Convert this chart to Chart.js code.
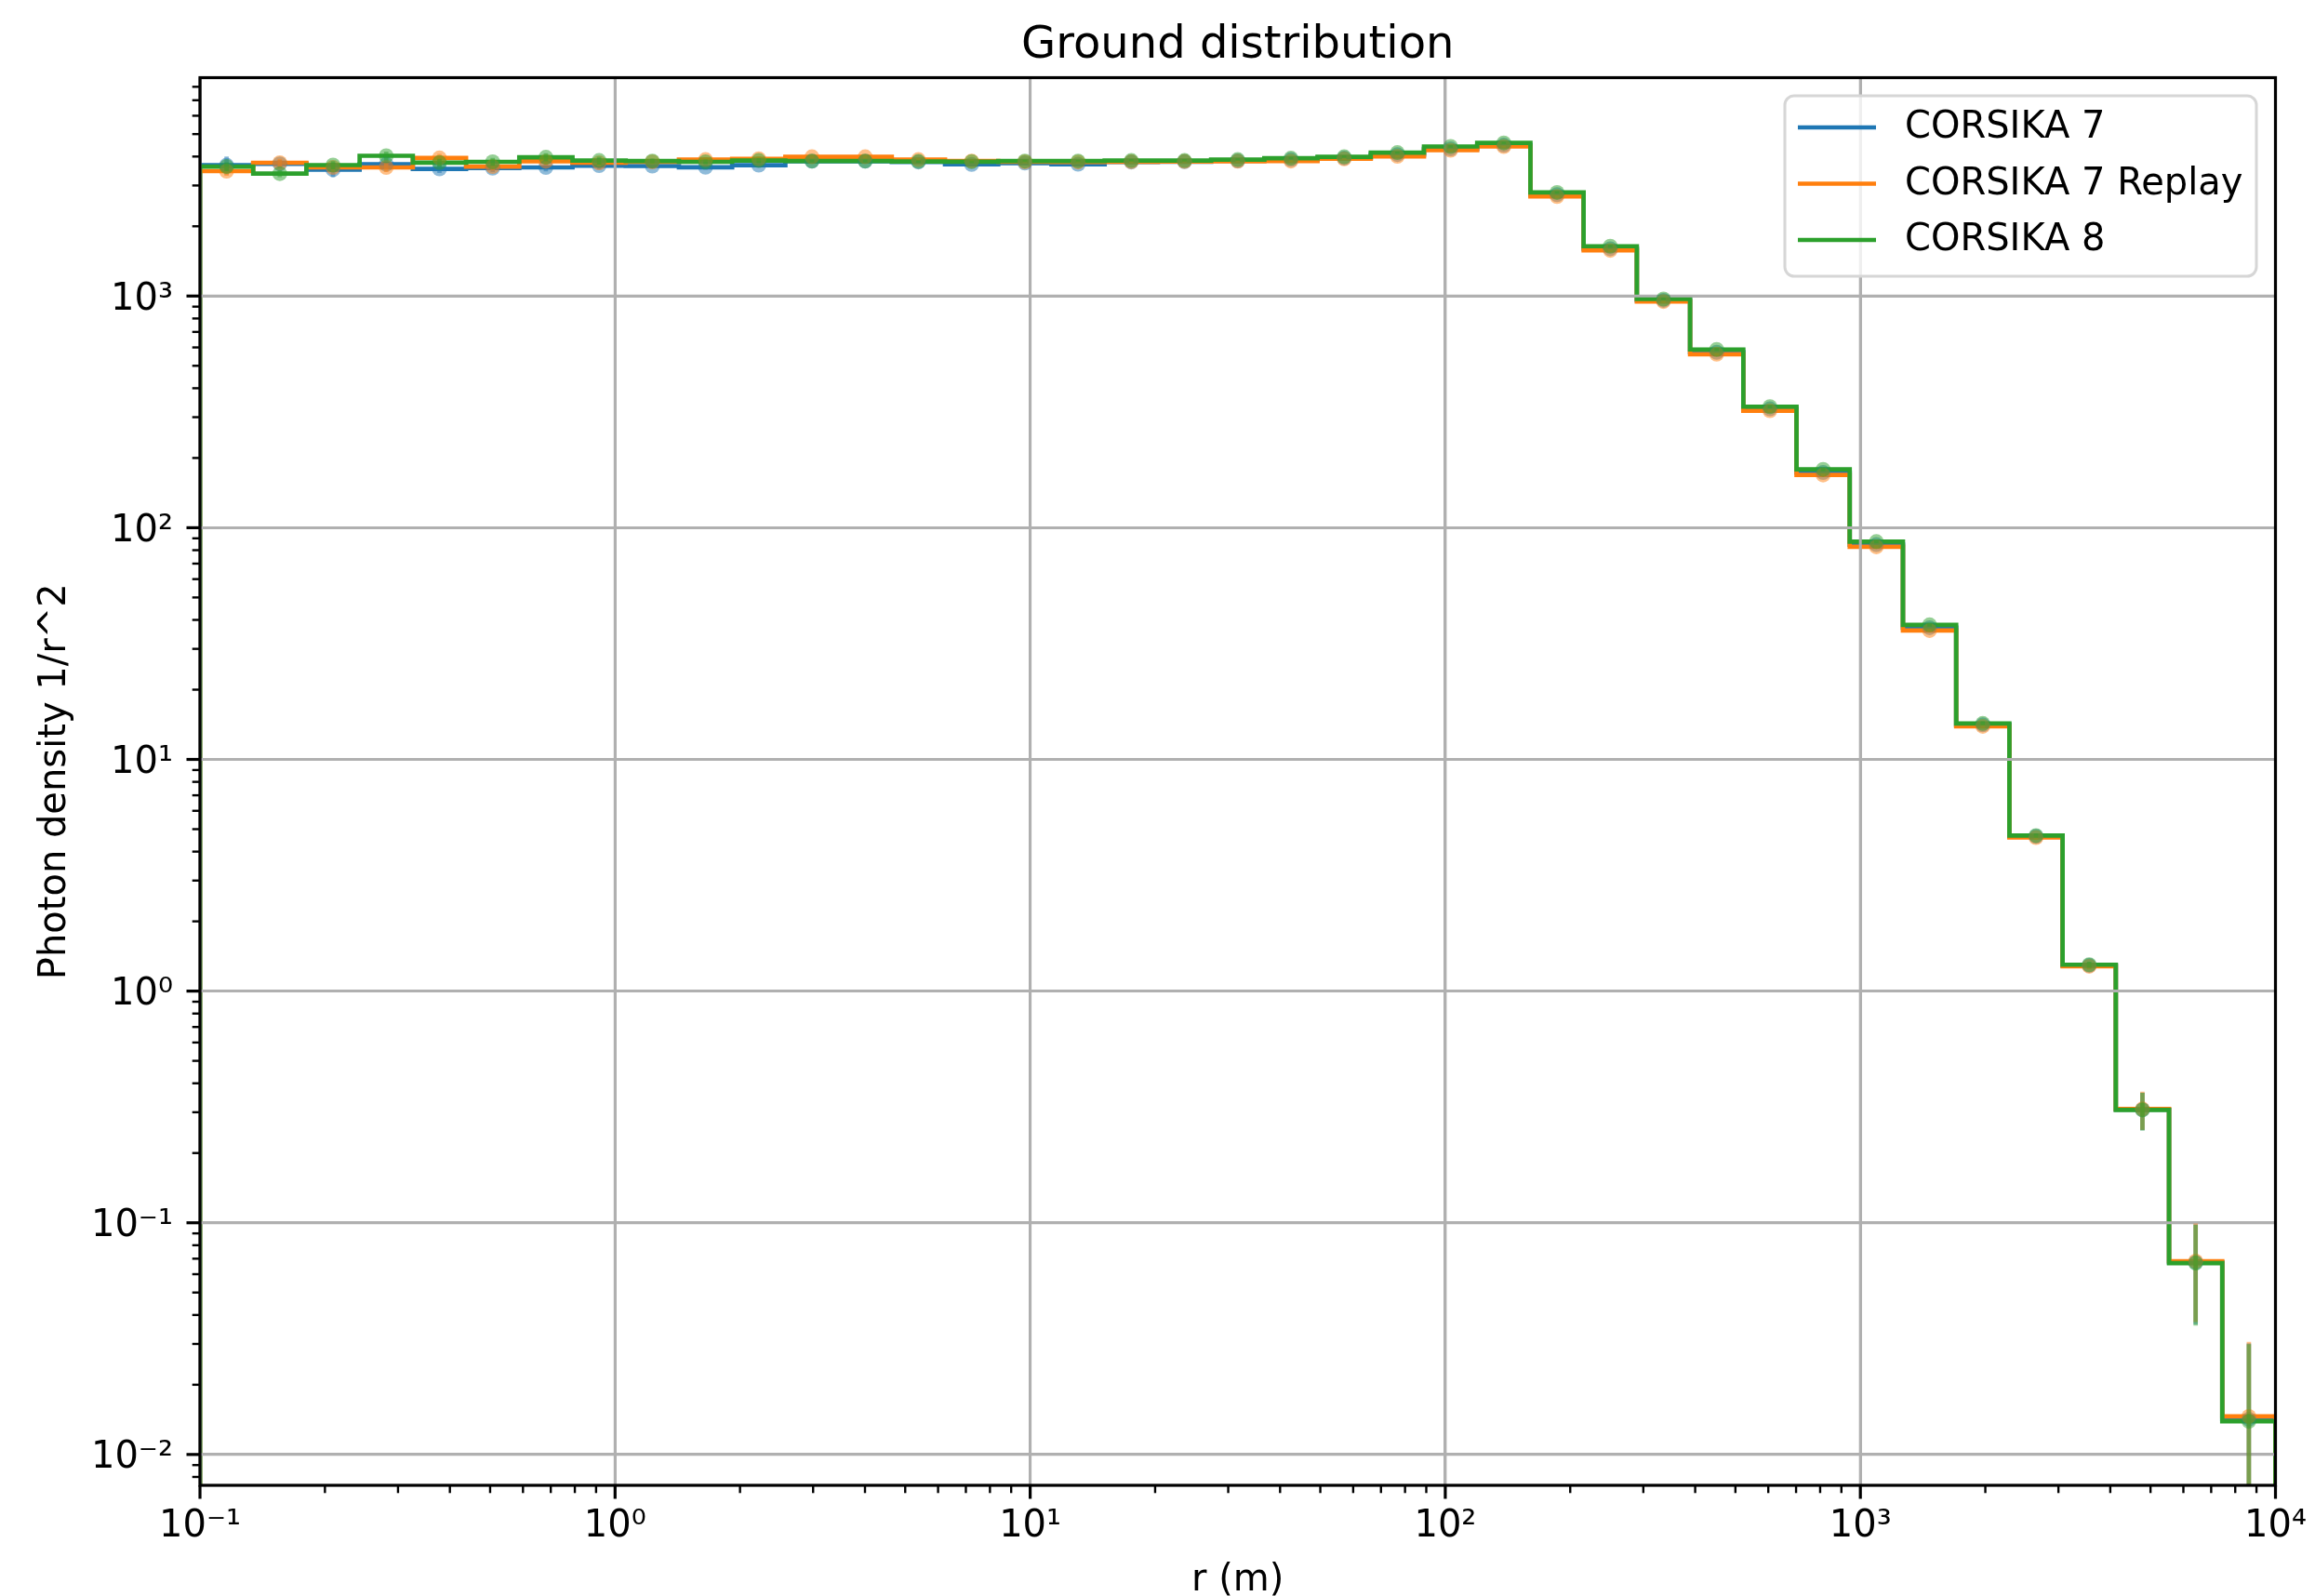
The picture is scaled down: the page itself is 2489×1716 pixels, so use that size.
<!DOCTYPE html>
<html>
<head>
<meta charset="utf-8">
<title>Ground distribution</title>
<script src="https://cdn.jsdelivr.net/npm/chart.js@4.4.1/dist/chart.umd.min.js"></script>
<style>
  html, body { margin: 0; padding: 0; background: #fff; }
  #wrap { width: 2489px; height: 1716px; }
</style>
</head>
<body>
<div id="wrap"><canvas id="chartGround" width="2489" height="1716"></canvas></div>
<script>
// radial bin edges in m (39 log bins from 0.1 m to 10 km)
const binEdges = [
  0.1, 0.134343, 0.180472, 0.242446, 0.325702, 0.437548, 0.587802, 0.789652,
  1.06082, 1.42510, 1.91448, 2.57191, 3.45511, 4.64159, 6.23550, 8.37678,
  11.2534, 15.1177, 20.3092, 27.2833, 36.6524, 49.2388, 66.1474, 88.8624,
  119.378, 160.372, 215.443, 289.427, 388.816, 522.335, 701.704, 942.668,
  1266.38, 1701.24, 2285.44, 3070.28, 4124.66, 5541.17, 7443.80, 10000
];

const seriesNames = ['CORSIKA 7', 'CORSIKA 7 Replay', 'CORSIKA 8'];

// photon density per bin
const c7 = [
  3670, 3720, 3510, 3705, 3540, 3565, 3590, 3655,
  3640, 3595, 3670, 3820, 3820, 3790, 3700, 3750,
  3705, 3790, 3800, 3830, 3880, 3940, 4080, 4320,
  4480, 2740, 1600, 958, 572, 326, 173, 84.5,
  37.0, 14.1, 4.65, 1.29, 0.308, 0.0675, 0.0142
];
const c7Replay = [
  3460, 3760, 3590, 3590, 3945, 3620, 3815, 3760,
  3795, 3880, 3910, 3990, 3990, 3880, 3825, 3795,
  3790, 3800, 3810, 3820, 3825, 3910, 4010, 4260,
  4420, 2690, 1575, 947, 561, 320, 169, 82.7,
  36.0, 13.9, 4.60, 1.28, 0.310, 0.0683, 0.0146
];
const c8 = [
  3620, 3375, 3675, 4030, 3765, 3795, 3970, 3845,
  3825, 3795, 3845, 3825, 3825, 3810, 3800, 3825,
  3825, 3845, 3845, 3880, 3935, 3990, 4160, 4420,
  4580, 2800, 1640, 971, 588, 333, 178.6, 87.1,
  38.1, 14.3, 4.69, 1.30, 0.307, 0.067, 0.0139
];

// statistical uncertainty per bin
const errC7 = [
  330, 150, 250, 150, 140, 140, 140, 140,
  90, 90, 90, 60, 60, 50, 50, 50,
  45, 45, 45, 45, 45, 45, 45, 50,
  50, 35, 22, 14, 8, 5, 3, 1.5,
  0.7, 0.3, 0.1, 0.04, 0.057, 0.031, 0.016
];
const errReplay = [
  160, 150, 150, 160, 160, 140, 150, 140,
  90, 90, 90, 60, 60, 50, 50, 50,
  45, 45, 45, 45, 45, 45, 45, 50,
  50, 35, 22, 14, 8, 5, 3, 1.5,
  0.7, 0.3, 0.1, 0.04, 0.058, 0.031, 0.016
];
const errC8 = [
  160, 120, 150, 170, 150, 150, 160, 150,
  90, 90, 90, 60, 60, 50, 50, 50,
  45, 45, 45, 45, 45, 45, 45, 50,
  50, 35, 22, 14, 8, 5, 3, 1.5,
  0.7, 0.3, 0.1, 0.04, 0.057, 0.031, 0.016
];

const xTickValues = [0.1, 1, 10, 100, 1000, 10000];
const xTickLabels = ['10⁻¹', '10⁰', '10¹', '10²', '10³', '10⁴'];
const yTickValues = [0.01, 0.1, 1, 10, 100, 1000];
const yTickLabels = ['10⁻²', '10⁻¹', '10⁰', '10¹', '10²', '10³'];

const X_MIN = 0.1, X_MAX = 10000;
const Y_MIN = 0.00736, Y_MAX = 8760;

const COLORS = ['#1f77b4', '#ff7f0e', '#2ca02c'];
const DOTS = ['rgba(31,119,180,0.5)', 'rgba(255,127,14,0.5)', 'rgba(44,160,44,0.5)'];
const GRID = '#b0b0b0';
const FONT = '"DejaVu Sans", sans-serif';

function isMajor(v) {
  const l = Math.log10(v);
  return Math.abs(l - Math.round(l)) < 1e-6;
}

function logTicks(min, max) {
  const out = [];
  for (let e = Math.floor(Math.log10(min)); e <= Math.ceil(Math.log10(max)); e++) {
    for (let m = 1; m < 10; m++) {
      const v = m * Math.pow(10, e);
      if (v >= min * (1 - 1e-9) && v <= max * (1 + 1e-9)) out.push(v);
    }
  }
  return out;
}

function labelFor(values, labels, v) {
  const i = values.findIndex(t => Math.abs(Math.log10(t) - Math.log10(v)) < 1e-6);
  return i < 0 ? '' : labels[i];
}

// histogram outline: left edge of each bin, closed down to the axis floor
function stepPoints(vals) {
  const last = binEdges.length - 1;
  const pts = [{ x: binEdges[0], y: Y_MIN }];
  vals.forEach((v, i) => pts.push({ x: binEdges[i], y: v }));
  pts.push({ x: binEdges[last], y: vals[vals.length - 1] });
  pts.push({ x: binEdges[last], y: Y_MIN });
  return pts;
}

function centerPoints(vals) {
  return vals.map((v, i) => ({ x: Math.sqrt(binEdges[i] * binEdges[i + 1]), y: v }));
}

const allValues = [c7, c7Replay, c8];
const allErrors = [errC7, errReplay, errC8];

const datasets = [];
allValues.forEach((vals, s) => {
  datasets.push({
    label: seriesNames[s],
    data: stepPoints(vals),
    borderColor: COLORS[s],
    borderWidth: 4.7,
    borderJoinStyle: 'miter',
    borderCapStyle: 'butt',
    stepped: 'before',
    pointRadius: 0,
    fill: false,
    order: 5 - s,
    isStep: true
  });
  datasets.push({
    label: seriesNames[s] + ' points',
    data: centerPoints(vals),
    errors: allErrors[s],
    errColor: DOTS[s],
    showLine: false,
    pointRadius: 8,
    pointHoverRadius: 8,
    pointBackgroundColor: DOTS[s],
    pointBorderWidth: 0,
    order: 2 - s,
    gridOver: s === 0
  });
});

function drawMajorGrid(chart) {
  const { ctx, chartArea: a, scales: { x, y } } = chart;
  ctx.save();
  ctx.strokeStyle = GRID;
  ctx.lineWidth = 3;
  xTickValues.forEach(v => {
    const px = x.getPixelForValue(v);
    if (px < a.left - 1 || px > a.right + 1) return;
    ctx.beginPath(); ctx.moveTo(px, a.top); ctx.lineTo(px, a.bottom); ctx.stroke();
  });
  yTickValues.forEach(v => {
    const py = y.getPixelForValue(v);
    if (py < a.top - 1 || py > a.bottom + 1) return;
    ctx.beginPath(); ctx.moveTo(a.left, py); ctx.lineTo(a.right, py); ctx.stroke();
  });
  ctx.restore();
}

function drawErrorBars(chart, ds) {
  const { ctx, chartArea: a, scales: { x, y } } = chart;
  ctx.save();
  ctx.beginPath();
  ctx.rect(a.left, a.top, a.right - a.left, a.bottom - a.top);
  ctx.clip();
  ctx.strokeStyle = ds.errColor;
  ctx.lineWidth = 4.7;
  ds.data.forEach((p, i) => {
    const e = ds.errors[i];
    const px = x.getPixelForValue(p.x);
    const top = y.getPixelForValue(p.y + e);
    const lo = p.y - e;
    const bottom = lo > 0 ? y.getPixelForValue(lo) : a.bottom + 10;
    ctx.beginPath(); ctx.moveTo(px, top); ctx.lineTo(px, bottom); ctx.stroke();
  });
  ctx.restore();
}

function drawFrame(chart) {
  const { ctx, chartArea: a, scales: { x, y } } = chart;
  ctx.save();
  ctx.strokeStyle = '#000';
  logTicks(X_MIN, X_MAX).forEach(v => {
    const px = x.getPixelForValue(v);
    const major = isMajor(v);
    ctx.lineWidth = major ? 3.2 : 2.4;
    ctx.beginPath(); ctx.moveTo(px, a.bottom); ctx.lineTo(px, a.bottom + (major ? 14.5 : 8.3)); ctx.stroke();
  });
  logTicks(Y_MIN, Y_MAX).forEach(v => {
    const py = y.getPixelForValue(v);
    const major = isMajor(v);
    ctx.lineWidth = major ? 3.2 : 2.4;
    ctx.beginPath(); ctx.moveTo(a.left, py); ctx.lineTo(a.left - (major ? 14.5 : 8.3), py); ctx.stroke();
  });
  ctx.lineWidth = 3.2;
  ctx.lineJoin = 'miter';
  ctx.strokeRect(a.left, a.top, a.right - a.left, a.bottom - a.top);
  ctx.restore();
}

function drawTexts(chart) {
  const { ctx, chartArea: a } = chart;
  const cx = (a.left + a.right) / 2;
  ctx.save();
  ctx.fillStyle = '#000';
  ctx.textAlign = 'center';
  ctx.textBaseline = 'alphabetic';
  ctx.font = '48px ' + FONT;
  ctx.fillText('Ground distribution', cx, 62);
  ctx.font = '40px ' + FONT;
  ctx.fillText('r (m)', cx, 1710);
  ctx.translate(60, (a.top + a.bottom) / 2);
  ctx.rotate(-Math.PI / 2);
  ctx.textBaseline = 'middle';
  ctx.fillText('Photon density 1/r^2', 0, 0);
  ctx.restore();
}

function drawLegend(chart) {
  const { ctx } = chart;
  const bx = 1919, by = 103, bw = 507, bh = 194, r = 10;
  ctx.save();
  ctx.beginPath();
  ctx.roundRect(bx, by, bw, bh, r);
  ctx.fillStyle = 'rgba(255,255,255,0.8)';
  ctx.fill();
  ctx.strokeStyle = '#d6d6d6';
  ctx.lineWidth = 3;
  ctx.stroke();
  const steps = chart.data.datasets.filter(d => d.isStep);
  ctx.font = '40px ' + FONT;
  ctx.textAlign = 'left';
  ctx.textBaseline = 'middle';
  steps.forEach((d, i) => {
    const ly = 137 + i * 60.5;
    ctx.strokeStyle = d.borderColor;
    ctx.lineWidth = 4.7;
    ctx.beginPath(); ctx.moveTo(1933, ly); ctx.lineTo(2017, ly); ctx.stroke();
    ctx.fillStyle = '#000';
    ctx.fillText(d.label, 2048, ly + 1);
  });
  ctx.restore();
}

const histDecor = {
  id: 'histDecor',
  beforeDatasetDraw(chart, args) {
    const ds = chart.data.datasets[args.index];
    if (ds.gridOver) drawMajorGrid(chart);
    if (ds.errors) drawErrorBars(chart, ds);
  },
  afterDatasetsDraw(chart) {
    drawFrame(chart);
  },
  afterDraw(chart) {
    drawTexts(chart);
    drawLegend(chart);
  }
};

const ctx = document.getElementById('chartGround');

new Chart(ctx, {
  type: 'line',
  data: { datasets: datasets },
  plugins: [histDecor],
  options: {
    responsive: false,
    animation: false,
    devicePixelRatio: 1,
    layout: { padding: { left: 0, top: 83.5, right: 42.5, bottom: 0 } },
    plugins: {
      legend: { display: false },
      tooltip: { enabled: false },
      title: { display: false }
    },
    scales: {
      x: {
        type: 'logarithmic',
        min: X_MIN,
        max: X_MAX,
        afterBuildTicks: (scale) => { scale.ticks = logTicks(X_MIN, X_MAX).map(v => ({ value: v })); },
        afterFit: (scale) => {
          scale.height = 119;
          scale.paddingLeft = 0;
          scale.paddingRight = 0;
        },
        grid: {
          color: (c) => (c.tick && isMajor(c.tick.value)) ? GRID : 'rgba(0,0,0,0)',
          lineWidth: 3,
          drawTicks: false
        },
        border: { display: false },
        ticks: {
          autoSkip: false,
          maxRotation: 0,
          minRotation: 0,
          padding: 21,
          color: '#000',
          font: { family: FONT, size: 40 },
          callback: (v) => labelFor(xTickValues, xTickLabels, v)
        }
      },
      y: {
        type: 'logarithmic',
        min: Y_MIN,
        max: Y_MAX,
        afterBuildTicks: (scale) => { scale.ticks = logTicks(Y_MIN, Y_MAX).map(v => ({ value: v })); },
        afterFit: (scale) => {
          scale.width = 215;
          scale.paddingTop = 0;
          scale.paddingBottom = 0;
        },
        grid: {
          color: (c) => (c.tick && isMajor(c.tick.value)) ? GRID : 'rgba(0,0,0,0)',
          lineWidth: 3,
          drawTicks: false
        },
        border: { display: false },
        ticks: {
          autoSkip: false,
          padding: 29,
          labelOffset: 4,
          color: '#000',
          font: { family: FONT, size: 40 },
          callback: (v) => labelFor(yTickValues, yTickLabels, v)
        }
      }
    }
  }
});
</script>
</body>
</html>
